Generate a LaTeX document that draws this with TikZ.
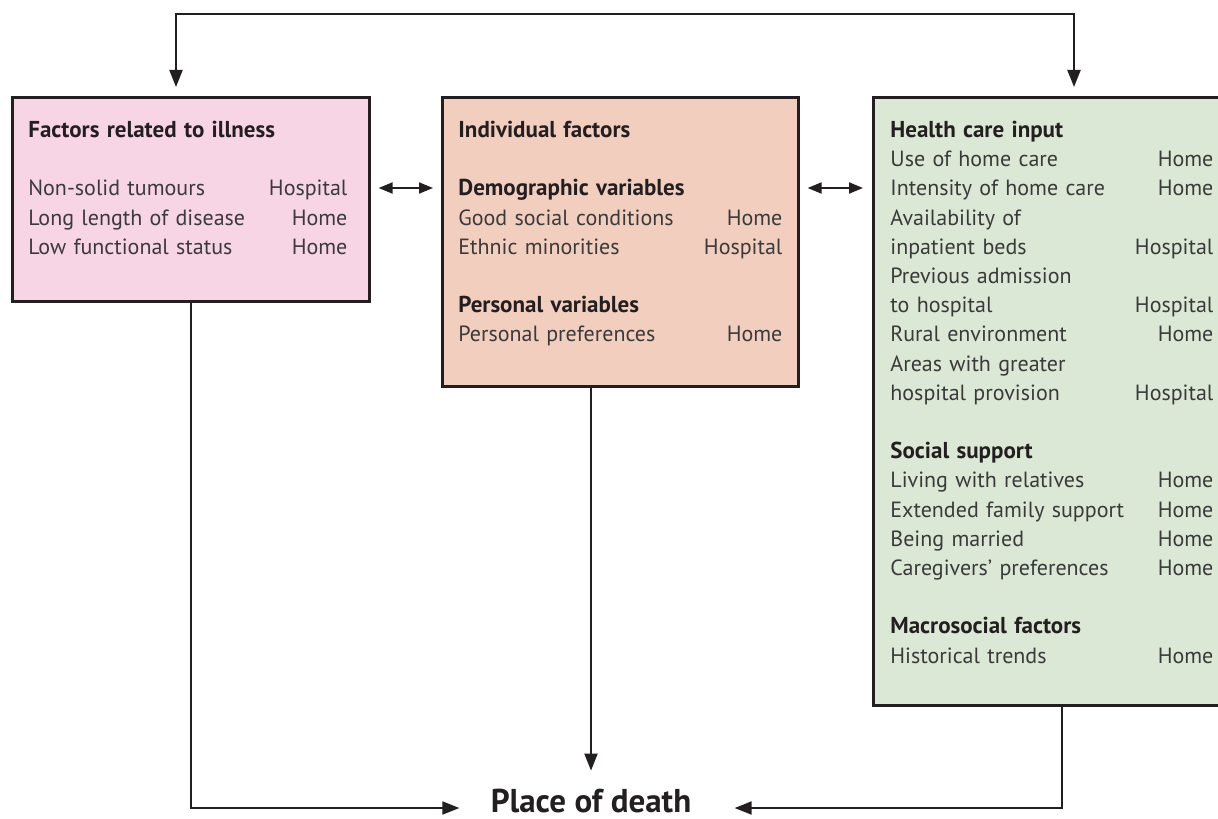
\documentclass[tikz,border=0pt]{standalone}
\usepackage{fontspec}
\setmainfont{PT Sans}
\usetikzlibrary{arrows.meta,calc}
\definecolor{illpink}{HTML}{F8D5E5}
\definecolor{indsalmon}{HTML}{F2CEBF}
\definecolor{caregreen}{HTML}{DAE8D5}
\definecolor{inkdark}{HTML}{231F20}
\definecolor{inkgrey}{HTML}{3A3A3A}
\newcommand{\rowlr}[2]{#1\hfill#2\par}
\newcommand{\hdline}[1]{\strut{\fontsize{11.5}{14.6}\selectfont\bfseries\color{inkdark}#1}\par}
\newcommand{\gapline}{\mbox{}\par}
\tikzset{
  factorbox/.style={draw=inkdark, line width=1.3pt, anchor=north west, inner sep=0pt},
  listtext/.style={anchor=north west, inner sep=0pt, align=left, text=inkgrey,
    font=\fontsize{11}{14.6}\selectfont},
  conn/.style={draw=inkdark, line width=1pt},
  oneway/.style={conn, -{Triangle[length=8.5pt,width=6.5pt]}},
  twoway/.style={conn, {Triangle[length=8.5pt,width=6.5pt]}-{Triangle[length=8.5pt,width=6.5pt]}},
  pairway/.style={conn, {Triangle[length=7pt,width=5.5pt]}-{Triangle[length=7pt,width=5.5pt]}},
}
\begin{document}
\begin{tikzpicture}[x=0.5pt,y=-0.5pt]
\useasboundingbox (0,0) rectangle (1218,818);
\clip (0,0) rectangle (1218,818);
% boxes
\node[factorbox, fill=illpink, minimum width=178.5pt, minimum height=102pt] (illness) at (11,96) {};
\node[factorbox, fill=indsalmon, minimum width=178pt, minimum height=144.5pt] (indiv) at (441,96) {};
\node[factorbox, fill=caregreen, minimum width=180pt, minimum height=304pt] (care) at (872,96) {};
% box texts
\node[listtext, text width=159.5pt] (illtext) at (28,116.6) {%
  \hdline{Factors related to illness}
  \gapline
  \rowlr{Non-solid tumours}{Hospital}
  \rowlr{Long length of disease}{Home}
  \rowlr{Low functional status}{Home}};
\node[listtext, text width=162pt] (indivtext) at (458,116.6) {%
  \hdline{Individual factors}
  \gapline
  \hdline{Demographic variables}
  \rowlr{Good social conditions}{Home}
  \rowlr{Ethnic minorities}{Hospital}
  \gapline
  \hdline{Personal variables}
  \rowlr{Personal preferences}{Home}};
\node[listtext, text width=161.5pt] (caretext) at (890,116.6) {%
  \hdline{Health care input}
  \rowlr{Use of home care}{Home}
  \rowlr{Intensity of home care}{Home}
  \rowlr{Availability of}{}
  \rowlr{inpatient beds}{Hospital}
  \rowlr{Previous admission}{}
  \rowlr{to hospital}{Hospital}
  \rowlr{Rural environment}{Home}
  \rowlr{Areas with greater}{}
  \rowlr{hospital provision}{Hospital}
  \gapline
  \hdline{Social support}
  \rowlr{Living with relatives}{Home}
  \rowlr{Extended family support}{Home}
  \rowlr{Being married}{Home}
  \rowlr{Caregivers’ preferences}{Home}
  \gapline
  \hdline{Macrosocial factors}
  \rowlr{Historical trends}{Home}};
% outcome
\node[inner sep=0pt, anchor=base, text height=4pt, text depth=0pt, text=inkdark,
  font=\fontsize{16.5}{20}\selectfont\bfseries] (death) at (591,812) {Place of death};
% connectors
\coordinate (illtop) at ($(illness.north west)+(165,0)$);
\coordinate (caretop) at ($(care.north west)+(202,0)$);
\coordinate (illdrop) at ($(illness.south west)+(180,0)$);
\coordinate (caredrop) at ($(care.south west)+(190,0)$);
\draw[twoway, shorten <=4.5pt, shorten >=4.5pt] (illtop) -- ++(0,-82) -| (caretop);
\draw[pairway, shorten <=4pt, shorten >=4pt] ($(illness.north east)+(0,92)$) -- ($(indiv.north west)+(0,92)$);
\draw[pairway, shorten <=4pt, shorten >=4.5pt] ($(indiv.north east)+(0,92)$) -- ($(care.north west)+(0,92)$);
\draw[oneway, shorten >=15.5pt] (illdrop) |- (death.west);
\draw[oneway, shorten >=21.5pt] (caredrop) |- (death.east);
\draw[oneway, shorten >=16.5pt] (death.north |- indiv.south) -- (death.north);
\end{tikzpicture}
\end{document}
